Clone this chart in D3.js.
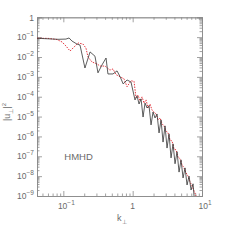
<!DOCTYPE html>
<html><head><meta charset="utf-8">
<script src="https://cdn.jsdelivr.net/npm/d3@7"></script>
<style>
body{margin:0;background:#fff}
text{font-family:"Liberation Sans",Arial,sans-serif;fill:#6a6a6a}
</style>
</head><body><script>
// solid (black) spectrum
var kBlack = [0.0417,0.084,0.109,0.121,0.133,0.157,0.174,0.205,0.243,0.286,0.316,0.361,0.413,0.44,0.52,0.595,0.66,0.73,0.83,0.946,
  1.081,1.156,1.236,1.321,1.412,1.508,1.612,1.722,1.841,1.967,2.102,2.247,2.401,2.566,2.742,2.931,3.132,3.347,3.577,3.823,
  4.085,4.366,4.666,4.986,5.329,5.695,6.086,6.504,6.951,7.428,7.68];
var eBlack = [0.088,0.078,0.08,0.091,0.064,0.045,0.04,0.0028,0.018,0.011,0.0016,0.004,0.0089,0.0014,0.0014,0.002,0.001,0.00044,0.0007,0.00055,
  6.9e-5,1.1e-4,4.3e-5,7.8e-5,9.5e-6,4.8e-5,2.7e-5,3.5e-5,3.8e-6,1.7e-5,8.5e-6,1.35e-5,1.5e-6,6.8e-6,5.2e-7,3.4e-6,2.6e-7,1.35e-6,8.3e-8,4.2e-7,
  4.2e-8,1.7e-7,1.6e-8,6.6e-8,8.1e-9,2.6e-8,3.6e-9,1.0e-8,2.0e-9,4.1e-9,1.0e-9];
// dotted (red) spectrum
var kRed = [0.0417,0.060,0.081,0.096,0.109,0.125,0.143,0.163,0.192,0.212,0.227,0.259,0.306,0.339,0.4,0.47,0.52,0.575,0.66,0.75,0.83,0.946,
  1.046,1.118,1.195,1.277,1.365,1.459,1.559,1.667,1.781,1.904,2.034,2.174,2.323,2.483,2.654,2.836,3.031,3.239,3.462,3.700,
  3.954,4.226,4.516,4.826,5.158,5.512,5.891,6.295,6.728,7.190,7.684,8.212];
var eRed = [0.088,0.087,0.076,0.057,0.036,0.020,0.032,0.051,0.045,0.028,0.01,0.0056,0.0045,0.0035,0.0035,0.0022,0.0025,0.0013,0.001,0.0008,0.00032,0.00063,
  6e-4,8.7e-5,1.2e-4,6.2e-5,9.8e-5,4.8e-5,6.9e-5,2.7e-5,4.3e-5,2.1e-5,1.7e-5,1.35e-5,6.8e-6,8.5e-6,4.3e-6,3.4e-6,1.9e-6,1.5e-6,6.6e-7,5.9e-7,
  2.3e-7,2.1e-7,9.3e-8,7.4e-8,3.7e-8,2.6e-8,1.45e-8,1.0e-8,5.1e-9,3.2e-9,1.8e-9,1.0e-9];

var xDomain = [0.0417, 10], yDomain = [1e-9, 1];
var xTicks = [0.1, 1, 10], xTickBase = ["10", "1", "10"], xTickExp = ["\u22121", "", "1"];
var yTicks = [1,1e-1,1e-2,1e-3,1e-4,1e-5,1e-6,1e-7,1e-8,1e-9];
var yTickBase = ["1","10","10","10","10","10","10","10","10","10"];
var yTickExp = ["","\u22121","\u22122","\u22123","\u22124","\u22125","\u22126","\u22127","\u22128","\u22129"];

var W = 249, H = 251, m = {l:37, r:47, t:17.3, b:55};
var iw = W - m.l - m.r, ih = H - m.t - m.b;
var axisCol = "#8a8a8a";

var svg = d3.select("body").append("svg").attr("width", W).attr("height", H);
var g = svg.append("g").attr("transform", "translate(" + m.l + "," + m.t + ")");

var x = d3.scaleLog().domain(xDomain).range([0, iw]);
var y = d3.scaleLog().domain(yDomain).range([ih, 0]);

function minors(lo, hi){
  var t = [];
  for (var p = Math.floor(Math.log10(lo)); p < Math.ceil(Math.log10(hi)); p++)
    for (var i = 2; i < 10; i++){ var v = i * Math.pow(10, p); if (v >= lo && v <= hi) t.push(v); }
  return t;
}
var xMinor = minors(xDomain[0], xDomain[1]), yMinor = minors(yDomain[0], yDomain[1]);

function drawAxis(gen, tr, vals, size){
  var a = g.append("g").attr("transform", tr)
    .call(gen.tickValues(vals).tickSize(size).tickFormat(""));
  a.selectAll("path").attr("stroke", axisCol).attr("stroke-width", 0.8);
  a.selectAll("line").attr("stroke", axisCol).attr("stroke-width", 0.8);
  return a;
}
// ticks point inward on all four sides
drawAxis(d3.axisBottom(x), "translate(0," + ih + ")", xTicks, -5);
drawAxis(d3.axisBottom(x), "translate(0," + ih + ")", xMinor, -2.5);
drawAxis(d3.axisTop(x), "translate(0,0)", xTicks, -5);
drawAxis(d3.axisTop(x), "translate(0,0)", xMinor, -2.5);
drawAxis(d3.axisLeft(y), "translate(0,0)", yTicks, -5);
drawAxis(d3.axisLeft(y), "translate(0,0)", yMinor, -2.5);
drawAxis(d3.axisRight(y), "translate(" + iw + ",0)", yTicks, -5);
drawAxis(d3.axisRight(y), "translate(" + iw + ",0)", yMinor, -2.5);

// tick labels with superscript exponents
yTicks.forEach(function(v, i){
  var t = g.append("text").attr("x", -3).attr("y", y(v) + 3.2)
    .attr("text-anchor", "end").attr("font-size", 8.5).text(yTickBase[i]);
  if (yTickExp[i]) t.append("tspan").attr("dy", -4).attr("font-size", 6.5).text(yTickExp[i]);
});
xTicks.forEach(function(v, i){
  var t = g.append("text").attr("x", x(v) + (xTickExp[i] ? 3 : 0)).attr("y", ih + 13)
    .attr("text-anchor", "middle").attr("font-size", 8.5).text(xTickBase[i]);
  if (xTickExp[i]) t.append("tspan").attr("dy", -4).attr("font-size", 6.5).text(xTickExp[i]);
});

// axis titles
var xt = svg.append("text").attr("x", 117).attr("y", 221).attr("font-size", 9).text("k");
xt.append("tspan").attr("dy", 2.5).attr("font-size", 6).text("\u22a5");
var yt = svg.append("text").attr("transform", "translate(10," + 112 + ") rotate(-90)")
  .attr("text-anchor", "middle").attr("font-size", 9).text("|u");
yt.append("tspan").attr("dy", 2.5).attr("font-size", 6).text("\u22a5");
yt.append("tspan").attr("dy", -2.5).text("|");
yt.append("tspan").attr("dy", -4).attr("font-size", 6).text("2");

g.append("text").attr("x", x(0.1) + 1).attr("y", y(1e-7) + 3.5)
  .attr("font-size", 9.5).text("HMHD");

svg.append("defs").append("clipPath").attr("id", "clip")
  .append("rect").attr("width", iw).attr("height", ih);

var line = d3.line().x(function(d){ return x(d[0]); }).y(function(d){ return y(d[1]); });
var plot = g.append("g").attr("clip-path", "url(#clip)");

plot.append("path").datum(d3.zip(kRed, eRed)).attr("d", line)
  .attr("fill", "none").attr("stroke", "#e0202a").attr("stroke-width", 0.9)
  .attr("stroke-dasharray", "1.5,1.2");
plot.append("path").datum(d3.zip(kBlack, eBlack)).attr("d", line)
  .attr("fill", "none").attr("stroke", "#333").attr("stroke-width", 0.8);
</script></body></html>
